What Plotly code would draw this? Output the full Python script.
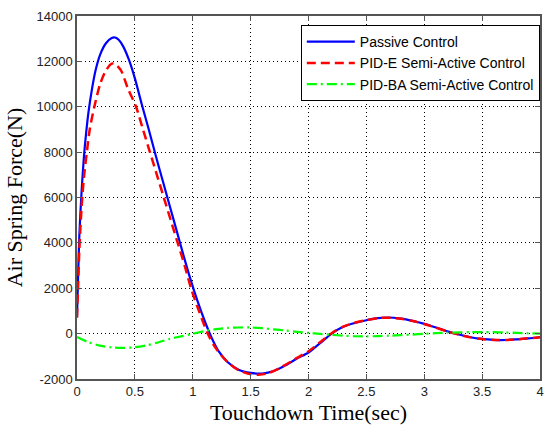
import plotly.graph_objects as go

# Passive control
t_passive = [0.0, 0.01, 0.02, 0.04, 0.06, 0.08, 0.10, 0.13, 0.16, 0.20, 0.25, 0.30, 0.33, 0.36,
             0.40, 0.45, 0.50, 0.56, 0.62, 0.68, 0.74, 0.80, 0.86, 0.92, 0.98, 1.04, 1.10, 1.16,
             1.22, 1.30, 1.40, 1.50, 1.60, 1.70, 1.80, 1.90, 2.00, 2.10, 2.20, 2.30, 2.40, 2.50,
             2.60, 2.68, 2.80, 2.90, 3.00, 3.10, 3.20, 3.30, 3.40, 3.50, 3.60, 3.70, 3.80, 3.90, 4.00]
f_passive = [750, 2600, 4300, 6300, 7800, 8900, 9800, 10800, 11600, 12300, 12800, 13030, 13050, 12950,
             12650, 12050, 11250, 10100, 9000, 7850, 6750, 5650, 4550, 3450, 2400, 1450, 600, -150,
             -750, -1250, -1600, -1730, -1760, -1650, -1400, -1100, -830, -420, 0, 300, 470, 590,
             680, 710, 660, 560, 430, 270, 100, -40, -160, -235, -275, -280, -250, -210, -160]

# PID-E semi-active control
t_pide = [0.0, 0.01, 0.02, 0.04, 0.06, 0.085, 0.11, 0.15, 0.20, 0.25, 0.30, 0.33, 0.38, 0.44,
          0.51, 0.57, 0.63, 0.69, 0.75, 0.81, 0.87, 0.93, 0.985, 1.05, 1.13, 1.20, 1.30, 1.40,
          1.50, 1.57, 1.65, 1.75, 1.85, 1.95, 2.00, 2.10, 2.20, 2.30, 2.40, 2.50, 2.60, 2.68,
          2.80, 2.90, 3.00, 3.10, 3.20, 3.30, 3.40, 3.50, 3.60, 3.70, 3.80, 3.90, 4.00]
f_pide = [700, 2200, 3700, 5600, 6900, 8000, 9000, 10000, 11000, 11600, 11900, 11880, 11600, 10800,
          10000, 9000, 8000, 7000, 6000, 5000, 4000, 3000, 2000, 1050, 0, -650, -1250, -1620,
          -1790, -1810, -1750, -1520, -1230, -920, -780, -380, 20, 310, 480, 595,
          680, 705, 655, 555, 425, 265, 95, -45, -165, -240, -280, -280, -250, -205, -160]

# PID-BA semi-active control
t_pidba = [0.0, 0.1, 0.2, 0.3, 0.4, 0.5, 0.6, 0.7, 0.8, 0.9, 1.0, 1.1, 1.2, 1.3, 1.4, 1.5, 1.6,
           1.7, 1.8, 1.9, 2.0, 2.1, 2.2, 2.3, 2.4, 2.5, 2.6, 2.7, 2.8, 2.9, 3.0, 3.1, 3.2, 3.3,
           3.4, 3.5, 3.6, 3.7, 3.8, 3.9, 4.0]
f_pidba = [-150, -380, -530, -610, -630, -600, -520, -390, -230, -120, -10, 110, 200, 250, 270,
           270, 240, 190, 140, 80, 30, -10, -50, -90, -115, -120, -110, -90, -70, -40, -10, 20,
           40, 55, 65, 70, 65, 50, 35, 15, 0]

x_ticks = [0, 0.5, 1, 1.5, 2, 2.5, 3, 3.5, 4]
x_tick_labels = ["0", "0.5", "1", "1.5", "2", "2.5", "3", "3.5", "4"]
y_ticks = [-2000, 0, 2000, 4000, 6000, 8000, 10000, 12000, 14000]
y_tick_labels = ["-2000", "0", "2000", "4000", "6000", "8000", "10000", "12000", "14000"]

fig = go.Figure()
fig.add_trace(go.Scatter(x=t_passive, y=f_passive, mode="lines", name="Passive Control",
                         line=dict(color="#0000FF", width=2.2, shape="spline", smoothing=0.8)))
fig.add_trace(go.Scatter(x=t_pide, y=f_pide, mode="lines", name="PID-E Semi-Active Control",
                         line=dict(color="#FF0000", width=2.5, dash="9px,5px", shape="spline", smoothing=0.8)))
fig.add_trace(go.Scatter(x=t_pidba, y=f_pidba, mode="lines", name="PID-BA Semi-Active Control",
                         line=dict(color="#00FF00", width=2.2, dash="10px,4px,2px,4px", shape="spline", smoothing=0.8)))

axis_common = dict(
    showline=True, linecolor="#555555", linewidth=1.5, mirror="ticks",
    ticks="inside", ticklen=5, tickcolor="#555555",
    showgrid=True, gridcolor="#000000", gridwidth=1, griddash="1px,3px",
    zeroline=False,
    tickfont=dict(family="Arial, Liberation Sans, sans-serif", size=13, color="#222222"),
)

fig.update_xaxes(range=[0, 4], tickvals=x_ticks, ticktext=x_tick_labels,
                 title=dict(text="Touchdown Time(sec)", standoff=6,
                            font=dict(family="Times New Roman, Liberation Serif, serif", size=22, color="#000000")),
                 **axis_common)
fig.update_yaxes(range=[-2000, 14000], tickvals=y_ticks, ticktext=y_tick_labels,
                 title=dict(text="Air Spring Force(N)", standoff=8,
                            font=dict(family="Times New Roman, Liberation Serif, serif", size=22, color="#000000")),
                 **axis_common)

fig.update_layout(
    width=546, height=426,
    margin=dict(l=77, r=2, t=16, b=47),
    paper_bgcolor="white", plot_bgcolor="white",
    showlegend=True,
    legend=dict(x=0.4834, y=0.975, xanchor="left", yanchor="top",
                bgcolor="white", bordercolor="#000000", borderwidth=1,
                font=dict(family="Arial, Liberation Sans, sans-serif", size=14, color="#000000"),
                itemwidth=48),
)

fig.write_html("out.html")
